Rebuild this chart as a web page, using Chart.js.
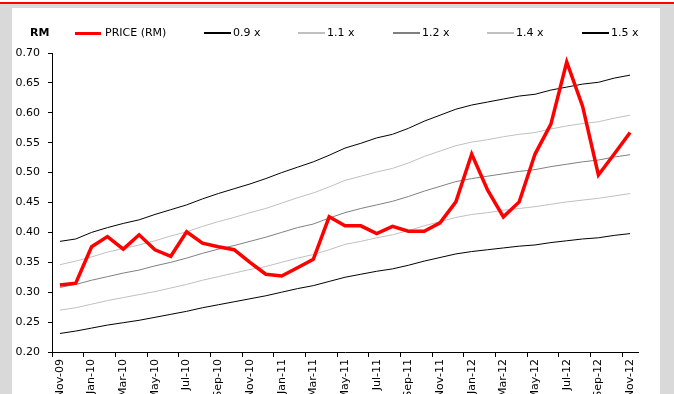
<!DOCTYPE html>
<html>
<head>
<meta charset="utf-8">
<script src="https://cdn.jsdelivr.net/npm/chart.js@4.4.1/dist/chart.umd.min.js"></script>
<style>
  html, body { margin: 0; padding: 0; }
  body {
    width: 674px; height: 394px; position: relative; overflow: hidden;
    background: #d9d9d9;
    font-family: "DejaVu Sans", Verdana, sans-serif;
  }
  #topstrip { position: absolute; left: 0; top: 0; width: 674px; height: 2px; background: #ffffff; }
  #redrule  { position: absolute; left: 0; top: 2px; width: 674px; height: 2px; background: #ff0000; }
  #panel    { position: absolute; left: 12px; top: 8px; width: 648px; height: 386px; background: #ffffff; }
  #chart    { position: absolute; left: 0; top: 0; }
  #legend   { position: absolute; left: 0; top: 0; width: 648px; height: 40px; }
  .unit { position: absolute; top: 18px; font-size: 11px; font-weight: bold; color: #000; line-height: 14px; }
  .item { position: absolute; top: 18px; height: 14px; font-size: 11px; color: #000; line-height: 14px; white-space: nowrap; }
  .item .swatch { position: absolute; left: 0; width: 27px; }
  .item .txt { position: absolute; left: 30px; top: 0; }
</style>
</head>
<body>
<div id="topstrip"></div>
<div id="redrule"></div>
<div id="panel">
  <canvas id="chart" width="648" height="386"></canvas>
  <div id="legend"></div>
</div>
<script>
// Monthly categories, Nov 2009 to Nov 2012
const months = [
  'Nov-09','Dec-09','Jan-10','Feb-10','Mar-10','Apr-10','May-10','Jun-10','Jul-10','Aug-10',
  'Sep-10','Oct-10','Nov-10','Dec-10','Jan-11','Feb-11','Mar-11','Apr-11','May-11','Jun-11',
  'Jul-11','Aug-11','Sep-11','Oct-11','Nov-11','Dec-11','Jan-12','Feb-12','Mar-12','Apr-12',
  'May-12','Jun-12','Jul-12','Aug-12','Sep-12','Oct-12','Nov-12'
];

// Share price (RM)
const price = [
  0.312, 0.315, 0.376, 0.393, 0.372, 0.396, 0.371, 0.360, 0.401, 0.382,
  0.376, 0.371, 0.350, 0.330, 0.327, 0.341, 0.355, 0.426, 0.411, 0.411,
  0.398, 0.410, 0.402, 0.402, 0.416, 0.451, 0.531, 0.471, 0.426, 0.451,
  0.531, 0.581, 0.685, 0.611, 0.496, 0.531, 0.567
];

// Valuation bands
const band09 = [
  0.231, 0.235, 0.240, 0.245, 0.249, 0.253, 0.258, 0.263, 0.268, 0.274,
  0.279, 0.284, 0.289, 0.294, 0.300, 0.306, 0.311, 0.318, 0.325, 0.330,
  0.335, 0.339, 0.345, 0.352, 0.358, 0.364, 0.368, 0.371, 0.374, 0.377,
  0.379, 0.383, 0.386, 0.389, 0.391, 0.395, 0.398
];
const band11 = [
  0.270, 0.274, 0.280, 0.286, 0.291, 0.296, 0.301, 0.307, 0.313, 0.320,
  0.326, 0.332, 0.338, 0.343, 0.350, 0.357, 0.363, 0.371, 0.380, 0.385,
  0.391, 0.396, 0.403, 0.411, 0.418, 0.425, 0.430, 0.433, 0.437, 0.440,
  0.443, 0.447, 0.451, 0.454, 0.457, 0.461, 0.465
];
const band12 = [
  0.308, 0.313, 0.320, 0.326, 0.332, 0.337, 0.344, 0.350, 0.357, 0.365,
  0.372, 0.378, 0.385, 0.392, 0.400, 0.408, 0.414, 0.424, 0.433, 0.440,
  0.446, 0.452, 0.460, 0.469, 0.477, 0.485, 0.490, 0.494, 0.498, 0.502,
  0.505, 0.510, 0.514, 0.518, 0.521, 0.526, 0.530
];
const band14 = [
  0.346, 0.352, 0.359, 0.367, 0.373, 0.379, 0.386, 0.394, 0.401, 0.410,
  0.418, 0.425, 0.433, 0.440, 0.449, 0.458, 0.466, 0.476, 0.487, 0.494,
  0.501, 0.507, 0.516, 0.527, 0.536, 0.545, 0.551, 0.555, 0.560, 0.564,
  0.567, 0.573, 0.578, 0.582, 0.585, 0.591, 0.596
];
const band15 = [
  0.385, 0.389, 0.400, 0.408, 0.415, 0.421, 0.430, 0.438, 0.446, 0.456,
  0.465, 0.473, 0.481, 0.490, 0.500, 0.509, 0.518, 0.529, 0.541, 0.549,
  0.558, 0.564, 0.574, 0.586, 0.596, 0.606, 0.613, 0.618, 0.623, 0.628,
  0.631, 0.638, 0.643, 0.648, 0.651, 0.658, 0.663
];

// Value-axis ticks
const yTicks = ['0.20','0.25','0.30','0.35','0.40','0.45','0.50','0.55','0.60','0.65','0.70'];
const yUnit = 'RM';

const FONT = '"DejaVu Sans", Verdana, sans-serif';

const datasets = [
  { label: 'PRICE (RM)', data: price,  borderColor: '#ff0000', borderWidth: 3.5, legendWidth: 3 },
  { label: '0.9 x',      data: band09, borderColor: '#000000', borderWidth: 1,   legendWidth: 1.3 },
  { label: '1.1 x',      data: band11, borderColor: '#c0c0c0', borderWidth: 1,   legendWidth: 1.3 },
  { label: '1.2 x',      data: band12, borderColor: '#808080', borderWidth: 1,   legendWidth: 1.3 },
  { label: '1.4 x',      data: band14, borderColor: '#c0c0c0', borderWidth: 1,   legendWidth: 1.3 },
  { label: '1.5 x',      data: band15, borderColor: '#000000', borderWidth: 1,   legendWidth: 1.3 }
].map(d => Object.assign(d, { fill: false, pointRadius: 0, tension: 0, borderJoinStyle: 'miter' }));

const chart = new Chart(document.getElementById('chart'), {
  type: 'line',
  data: { labels: months, datasets },
  options: {
    responsive: false,
    animation: false,
    events: [],
    layout: { padding: { left: 0, right: 22, top: 45, bottom: 0 } },
    plugins: { legend: { display: false }, tooltip: { enabled: false } },
    scales: {
      x: {
        type: 'category',
        offset: true,
        grid: {
          offset: true,
          drawOnChartArea: false,
          tickLength: 5,
          tickWidth: 1,
          tickColor: ctx => (ctx.index !== undefined && ctx.index % 2 === 0) ? '#000000' : 'rgba(0,0,0,0)'
        },
        border: { color: '#000000', width: 1 },
        ticks: {
          autoSkip: false,
          minRotation: 90,
          maxRotation: 90,
          padding: 2,
          color: '#000000',
          font: { family: FONT, size: 11 },
          callback: (v, i) => (i % 2 === 0 ? months[i] : '')
        },
        afterFit: s => { s.height = 42; }
      },
      y: {
        min: 0.2,
        max: 0.7,
        grid: { drawOnChartArea: false, tickLength: 4, tickColor: '#000000' },
        border: { color: '#000000', width: 1 },
        ticks: {
          stepSize: 0.05,
          padding: 8,
          color: '#000000',
          font: { family: FONT, size: 11 },
          callback: v => {
            const s = Number(v).toFixed(2);
            return yTicks.includes(s) ? s : '';
          }
        },
        afterFit: s => { s.width = 40; }
      }
    }
  }
});

// Legend row: unit label followed by one swatch per series
const legend = document.getElementById('legend');
const unit = document.createElement('div');
unit.className = 'unit';
unit.style.left = '18px';
unit.textContent = yUnit;
legend.appendChild(unit);

const legendLeft = [63, 192, 286, 381, 475, 570];
chart.data.datasets.forEach((ds, i) => {
  const item = document.createElement('div');
  item.className = 'item';
  item.style.left = legendLeft[i] + 'px';
  const sw = document.createElement('div');
  sw.className = 'swatch';
  sw.style.height = ds.legendWidth + 'px';
  sw.style.top = (7 - ds.legendWidth / 2) + 'px';
  sw.style.background = ds.borderColor;
  sw.style.width = (i === 0 ? 26 : 27) + 'px';
  const tx = document.createElement('span');
  tx.className = 'txt';
  tx.style.left = (i === 0 ? 30 : 29) + 'px';
  tx.textContent = ds.label;
  item.appendChild(sw);
  item.appendChild(tx);
  legend.appendChild(item);
});
</script>
</body>
</html>
